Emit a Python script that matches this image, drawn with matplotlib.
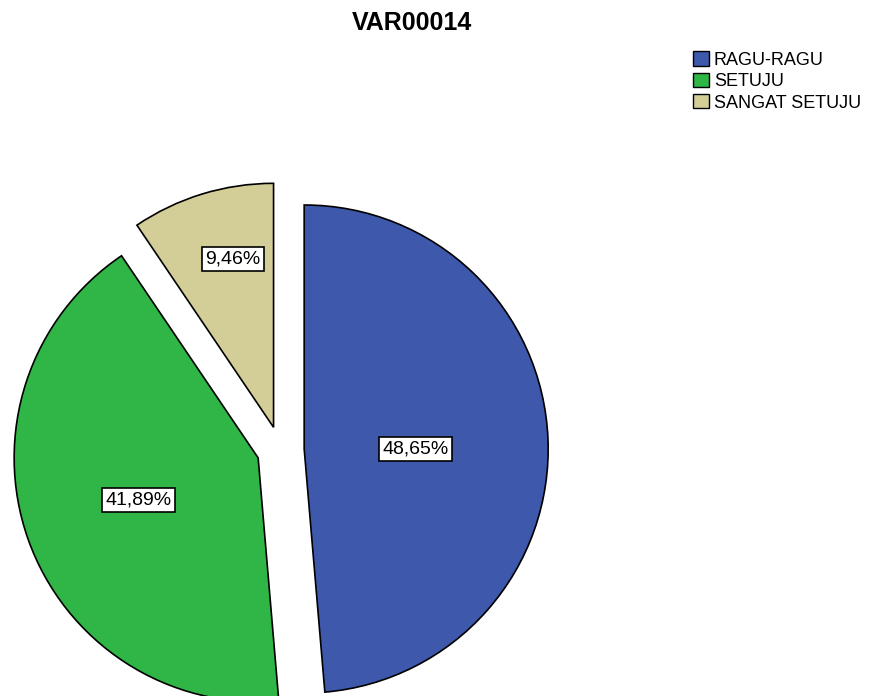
import matplotlib
matplotlib.use("Agg")
import matplotlib.pyplot as plt
import matplotlib.patches as mpatches
import numpy as np

plt.rcParams['font.family'] = ['Liberation Sans', 'DejaVu Sans']

# data
categories = ['RAGU-RAGU', 'SETUJU', 'SANGAT SETUJU']
percent = [48.65, 41.89, 9.46]
colors = ['#3e58ac', '#30b646', '#d3ce98']

# layout in pixel units (figure is 869x696 px)
W, H = 869, 696
cx, cy, r = 280.5, H - 450, 244
explode = [23.7, 23.7, 23.7]       # matplotlib takes this in data units
label_frac = [0.455, 0.52, 0.71]   # radial position of the % boxes
label_dang = [-2.5, 0, -3.5]       # small angular nudge of the boxes (deg)

fig = plt.figure(figsize=(W / 100, H / 100), dpi=100)
ax = fig.add_axes([0, 0, 1, 1])

wedges, _ = ax.pie(percent, colors=colors, explode=explode, startangle=90,
                   counterclock=False, center=(cx, cy), radius=r,
                   wedgeprops=dict(edgecolor='black', linewidth=1.2),
                   frame=True)
ax.set_xlim(0, W)
ax.set_ylim(0, H)
ax.set_aspect('equal')
ax.axis('off')

for w, p, f, e, da in zip(wedges, percent, label_frac, explode, label_dang):
    mid = np.deg2rad((w.theta1 + w.theta2) / 2)
    ang = mid + np.deg2rad(da)
    d = f * r
    x = cx + e * np.cos(mid) + d * np.cos(ang)
    y = cy + e * np.sin(mid) + d * np.sin(ang)
    ax.text(x, y, f'{p:.2f}%'.replace('.', ','), ha='center', va='center',
            fontsize=14,
            bbox=dict(boxstyle='square,pad=0.18', facecolor='white',
                      edgecolor='black', linewidth=1.2))

fig.text(412 / W, 1 - 23 / H, 'VAR00014', ha='center', va='center',
         fontsize=18, fontweight='bold')

handles = [mpatches.Patch(facecolor=c, edgecolor='black', linewidth=1.0)
           for c in colors]
fig.legend(handles, categories, loc='upper left',
           bbox_to_anchor=(686 / W, 1 - 44 / H), frameon=False,
           fontsize=13, handlelength=0.85, handleheight=0.85,
           handletextpad=0.3, labelspacing=0.22, borderaxespad=0)

fig.savefig('out.png', dpi=100)
